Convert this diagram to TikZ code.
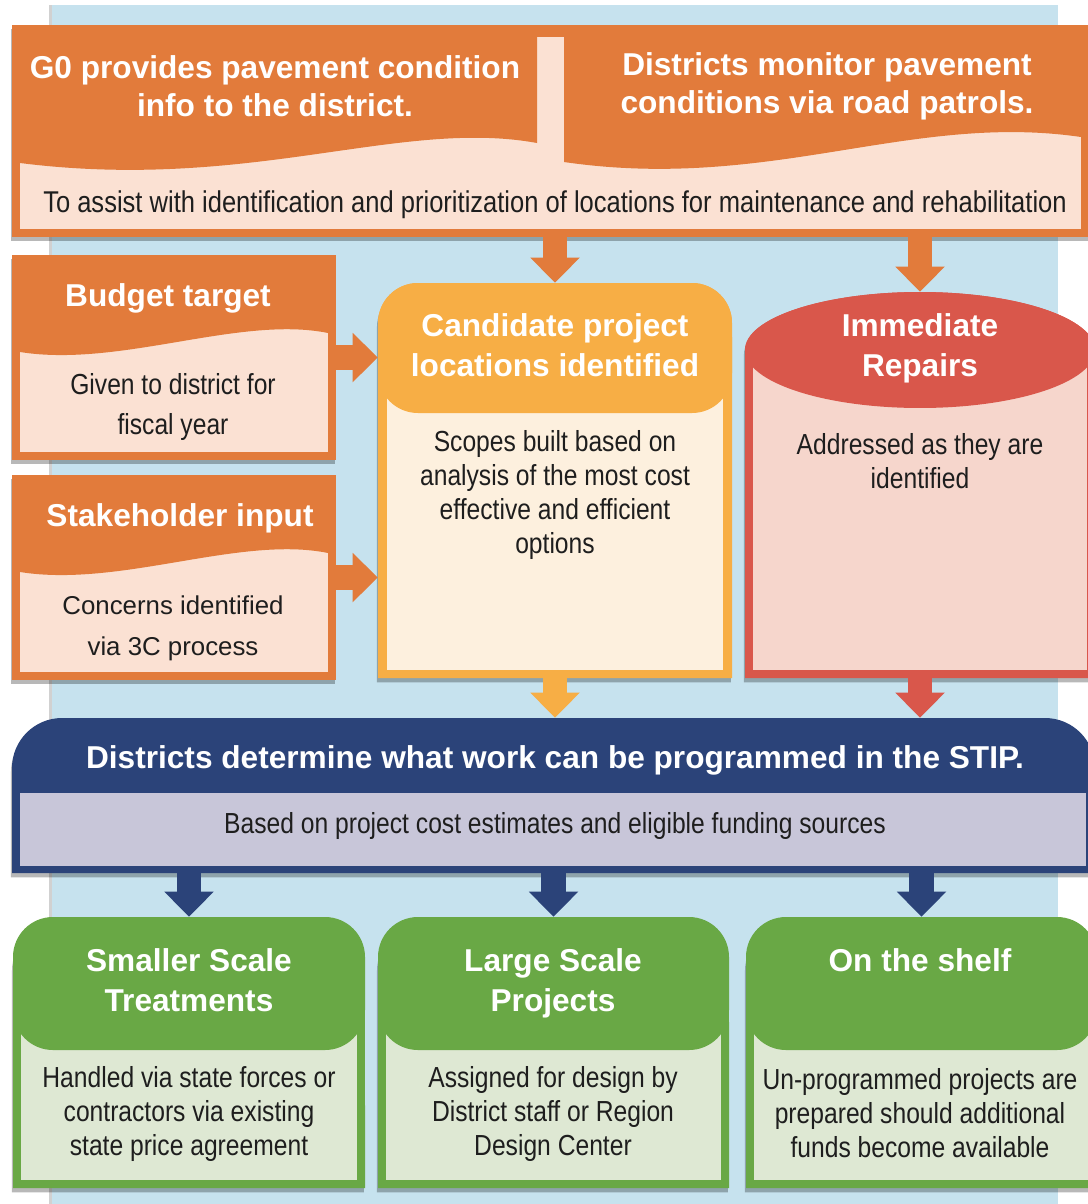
\documentclass[tikz,border=0pt]{standalone}
\usepackage{fontspec}
\setmainfont{Liberation Sans}
\newfontfamily\condfont{Liberation Sans}[FakeStretch=0.85]
\usetikzlibrary{arrows.meta,fit,shadows}
\definecolor{panelc}{RGB}{198,226,238}
\definecolor{orangec}{RGB}{226,123,59}
\definecolor{peachc}{RGB}{251,225,211}
\definecolor{yellowc}{RGB}{247,174,69}
\definecolor{creamc}{RGB}{253,240,222}
\definecolor{redc}{RGB}{217,87,75}
\definecolor{pinkc}{RGB}{246,214,204}
\definecolor{navyc}{RGB}{43,67,121}
\definecolor{lavc}{RGB}{200,198,217}
\definecolor{greenc}{RGB}{105,168,69}
\definecolor{palegc}{RGB}{222,232,211}
\definecolor{txtc}{RGB}{30,30,30}
\begin{document}
\begin{tikzpicture}[x=0.02cm,y=-0.02cm,
  hd/.style={text=white, font=\fontsize{18}{22.8}\selectfont\bfseries, align=center, inner sep=0pt},
  hdtop/.style={hd, font=\fontsize{18}{21.6}\selectfont\bfseries},
  bd/.style={text=txtc, font=\condfont\fontsize{16.5}{19.3}\selectfont, align=center, inner sep=0pt},
  bdbig/.style={bd, font=\condfont\fontsize{17.1}{19.3}\selectfont},
  bdwide/.style={bd, font=\condfont\fontsize{16.5}{22.8}\selectfont},
  bdn/.style={text=txtc, font=\fontsize{14.7}{23.2}\selectfont, align=center, inner sep=0pt},
  shad/.style={drop shadow={shadow xshift=-0.6pt,shadow yshift=-2.5pt,opacity=0.28,fill=black}},
  frame/.style={inner sep=0pt, draw=none},
  arr/.style={line width=14.2pt, -{Triangle[width=27.3pt,length=14.2pt]}}
]
\useasboundingbox (0,0) rectangle (1088,1204);
\clip (0,0) rectangle (1088,1204);
\fill[white] (0,0) rectangle (1088,1204);
\fill[panelc] (52,5) rectangle (1058,1204);
\fill[black!18] (49,5) rectangle (52,1204);

% ---------- top box ----------
\fill[orangec, shad] (12,25) rectangle (1095,237);
\fill[peachc] (20,37) rectangle (1081,229);
\fill[orangec] (20,37) -- (537,37) -- (537,143) .. controls (400,118) and (250,192) .. (20,163) -- cycle;
\fill[orangec] (564,37) -- (1081,37) -- (1081,137) .. controls (910,112) and (770,192) .. (564,162) -- cycle;
\node[frame, fit={(12,25)(1095,237)}] (top) {};
\node[hdtop] (topL) at (275,86) {G0 provides pavement condition\\info to the district.};
\node[hdtop] (topR) at (827,86) {Districts monitor pavement\\conditions via road patrols.};
\node[bdbig] (topB) at (555,205) {To assist with identification and prioritization of locations for maintenance and rehabilitation};

% ---------- budget target ----------
\fill[orangec, shad] (12,255) rectangle (336,460);
\fill[peachc] (20,263) rectangle (328,452);
\fill[orangec] (20,263) -- (328,263) -- (328,333) .. controls (240,315) and (120,368) .. (20,352) -- cycle;
\node[frame, fit={(12,255)(336,460)}] (bud) {};
\node[hd] (budT) at (168,298) {Budget target};
\node[bdwide] (budB) at (173,407) {Given to district for\\fiscal year};

% ---------- stakeholder input ----------
\fill[orangec, shad] (12,475) rectangle (336,680);
\fill[peachc] (20,483) rectangle (328,672);
\fill[orangec] (20,483) -- (328,483) -- (328,553) .. controls (240,535) and (120,588) .. (20,572) -- cycle;
\node[frame, fit={(12,475)(336,680)}] (stk) {};
\node[hd] (stkT) at (180,518) {Stakeholder input};
\node[bdn] (stkB) at (173,628) {Concerns identified\\via 3C process};

% ---------- candidate ----------
\fill[yellowc, shad] (378,678) -- (378,323) arc[start angle=180,end angle=90,radius=0.8cm] -- (692,283) arc[start angle=90,end angle=0,radius=0.8cm] -- (732,678) -- cycle;
\fill[creamc] (387,370) rectangle (723,670);
\fill[yellowc, rounded corners=0.8cm] (378,283) rectangle (732,413);
\node[frame, fit={(378,283)(732,678)}] (cand) {};
\node[hd] (candT) at (555,345) {Candidate project\\locations identified};
\node[bd] (candB) at (555,495) {Scopes built based on\\analysis of the most cost\\effective and efficient\\options};

% ---------- immediate repairs ----------
\fill[redc, shad] (745,678) -- (745,350) arc[start angle=180,end angle=0,x radius=3.5cm,y radius=1.16cm] -- (1095,678) -- cycle;
\fill[pinkc] (753,360) rectangle (1087,670);
\fill[redc] (920,350) ellipse[x radius=3.5cm,y radius=1.16cm];
\node[frame, fit={(745,292)(1095,678)}] (imm) {};
\node[hd] (immT) at (920,348) {Immediate\\Repairs};
\node[bd] (immB) at (920,461) {Addressed as they are\\identified};

% ---------- STIP ----------
\fill[navyc, shad] (12,873) -- (12,768) arc[start angle=180,end angle=90,radius=1cm] -- (1045,718) arc[start angle=90,end angle=0,radius=1cm] -- (1095,873) -- cycle;
\fill[lavc] (20,793) rectangle (1086,866);
\node[frame, fit={(12,718)(1095,873)}] (stip) {};
\node[hd] (stipT) at (555,760) {Districts determine what work can be programmed in the STIP.};
\node[bd] (stipB) at (555,826) {Based on project cost estimates and eligible funding sources};

% ---------- green boxes ----------
\fill[greenc, shad] (13,1188) -- (13,967) arc[start angle=180,end angle=90,radius=1cm] -- (315,917) arc[start angle=90,end angle=0,radius=1cm] -- (365,1188) -- cycle;
\fill[palegc] (21,1000) rectangle (357,1180);
\fill[greenc, rounded corners=0.8cm] (13,917) rectangle (365,1050);
\node[frame, fit={(13,917)(365,1188)}] (g1) {};
\node[hd] (g1T) at (189,980) {Smaller Scale\\Treatments};
\node[bd] (g1B) at (189,1114) {Handled via state forces or\\contractors via existing\\state price agreement};

\fill[greenc, shad] (378,1188) -- (378,967) arc[start angle=180,end angle=90,radius=1cm] -- (679,917) arc[start angle=90,end angle=0,radius=1cm] -- (729,1188) -- cycle;
\fill[palegc] (386,1000) rectangle (721,1180);
\fill[greenc, rounded corners=0.8cm] (378,917) rectangle (729,1050);
\node[frame, fit={(378,917)(729,1188)}] (g2) {};
\node[hd] (g2T) at (553,983) {Large Scale\\Projects};
\node[bd] (g2B) at (553,1114) {Assigned for design by\\District staff or Region\\Design Center};

\fill[greenc, shad] (746,1188) -- (746,967) arc[start angle=180,end angle=90,radius=1cm] -- (1047,917) arc[start angle=90,end angle=0,radius=1cm] -- (1097,1188) -- cycle;
\fill[palegc] (754,1000) rectangle (1089,1180);
\fill[greenc, rounded corners=0.8cm] (746,917) rectangle (1097,1050);
\node[frame, fit={(746,917)(1097,1188)}] (g3) {};
\node[hd] (g3T) at (920,960) {On the shelf};
\node[bd] (g3B) at (920,1113) {Un-programmed projects are\\prepared should additional\\funds become available};

% ---------- connectors ----------
\draw[arr, orangec] (top.south -| cand.north) -- (cand.north);
\draw[arr, orangec] (top.south -| imm.north) -- (imm.north);
\draw[arr, orangec] (bud.east) -- (cand.west |- bud.east);
\draw[arr, orangec] (stk.east) -- (cand.west |- stk.east);
\draw[arr, yellowc] (cand.south) -- (stip.north -| cand.south);
\draw[arr, redc] (imm.south) -- (stip.north -| imm.south);
\draw[arr, navyc] (stip.south -| g1.north) -- (g1.north);
\draw[arr, navyc] (stip.south -| g2.north) -- (g2.north);
\draw[arr, navyc] (stip.south -| g3.north) -- (g3.north);
\end{tikzpicture}
\end{document}
